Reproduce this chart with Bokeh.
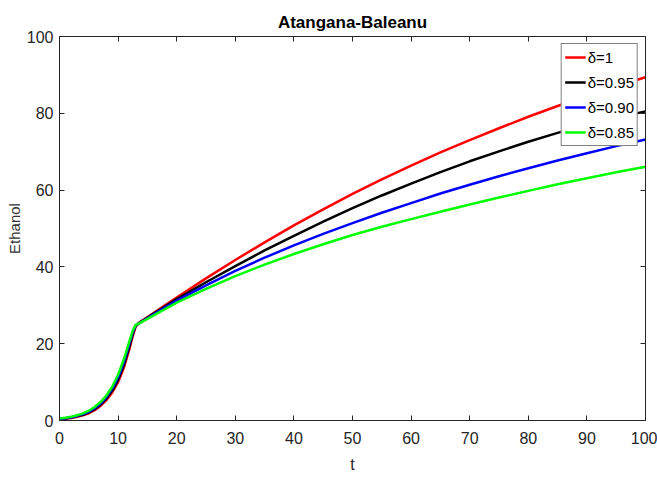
from bokeh.plotting import figure
from bokeh.models import LinearAxis, Range1d, FixedTicker, Legend, LegendItem, CustomJSTickFormatter
from bokeh.embed import file_html
from bokeh.resources import INLINE

t = [0, 1, 2, 3, 4, 5, 6, 7, 8, 9, 10, 11, 12, 12.5, 13, 13.5, 14, 16, 18, 20, 25, 30, 35, 40, 45,
     50, 55, 60, 65, 70, 75, 80, 85, 90, 95, 100]
d100 = [0.3, 0.45, 0.65, 0.95, 1.35, 1.9, 2.7, 3.8, 5.3, 7.3, 10.0, 13.8, 19.0, 22.0, 24.5, 25.3, 25.9,
        27.9, 30.0, 32.0, 37.0, 41.8, 46.4, 50.8, 55.0, 59.0, 62.8, 66.4, 69.8, 73.0, 76.1, 79.1,
        81.9, 84.55, 87.05, 89.4]
d095 = [0.35, 0.52, 0.75, 1.1, 1.5, 2.1, 2.95, 4.1, 5.7, 7.8, 10.6, 14.5, 19.7, 22.5, 24.6, 25.3, 25.8,
        27.8, 29.7, 31.6, 36.0, 40.2, 44.3, 48.1, 51.8, 55.3, 58.6, 61.7, 64.7, 67.5, 70.1, 72.6,
        74.9, 77.0, 78.85, 80.5]
d090 = [0.4, 0.6, 0.85, 1.2, 1.65, 2.3, 3.2, 4.4, 6.1, 8.3, 11.2, 15.2, 20.4, 23.0, 24.8, 25.2, 25.7,
        27.6, 29.4, 31.2, 35.2, 38.95, 42.4, 45.6, 48.6, 51.4, 54.1, 56.6, 59.1, 61.4, 63.6, 65.7,
        67.7, 69.6, 71.45, 73.2]
d085 = [0.5, 0.7, 0.95, 1.35, 1.85, 2.55, 3.5, 4.8, 6.5, 8.8, 11.9, 16.0, 21.0, 23.4, 24.9, 25.2, 25.6,
        27.3, 29.0, 30.7, 34.3, 37.6, 40.6, 43.35, 45.9, 48.3, 50.45, 52.45, 54.35, 56.25, 58.05, 59.8,
        61.5, 63.1, 64.65, 66.1]
labels = ["δ=1", "δ=0.95", "δ=0.90", "δ=0.85"]
colors = ["#ff0000", "#000000", "#0000ff", "#00ff00"]
x_ticks = [0, 10, 20, 30, 40, 50, 60, 70, 80, 90, 100]
y_ticks = [0, 20, 40, 60, 80, 100]

FONT = "Liberation Sans"
AX = "#262626"

p = figure(frame_width=586, frame_height=384, output_backend="svg", toolbar_location=None,
           x_range=Range1d(0, 100), y_range=Range1d(0, 100),
           min_border_left=59, min_border_right=12, min_border_top=36, min_border_bottom=57,
           title="Atangana-Baleanu")
p.title.align = "center"
p.title.text_font = FONT
p.title.text_font_size = "17px"
p.title.text_font_style = "bold"
p.title.text_color = "#000000"
p.grid.visible = False
p.outline_line_color = None
p.background_fill_color = "white"
p.border_fill_color = "white"

xa = p.xaxis[0]
ya = p.yaxis[0]
xa.ticker = FixedTicker(ticks=x_ticks)
ya.ticker = FixedTicker(ticks=y_ticks)
for ax in (xa, ya):
    ax.major_tick_in = 5
    ax.major_tick_out = 0
    ax.minor_tick_line_color = None
    ax.axis_line_color = AX
    ax.major_tick_line_color = AX
    ax.major_label_text_color = AX
    ax.major_label_text_font = FONT
    ax.major_label_text_font_size = "16px"
xa.major_label_standoff = 11
ya.major_label_standoff = 6

xa.axis_label = "t"
xa.axis_label_text_font = FONT
xa.axis_label_text_font_size = "16px"
xa.axis_label_text_font_style = "normal"
xa.axis_label_text_color = AX
xa.axis_label_standoff = 9

ya.axis_label = "Ethanol"
ya.axis_label_text_font = FONT
ya.axis_label_text_font_size = "15px"
ya.axis_label_text_font_style = "normal"
ya.axis_label_text_color = "#333333"
ya.axis_label_standoff = 1

blank = CustomJSTickFormatter(code="return ''")
top = LinearAxis(ticker=FixedTicker(ticks=x_ticks), formatter=blank)
right = LinearAxis(ticker=FixedTicker(ticks=y_ticks), formatter=blank)
for ax in (top, right):
    ax.major_tick_in = 5
    ax.major_tick_out = 0
    ax.minor_tick_line_color = None
    ax.axis_line_color = AX
    ax.major_tick_line_color = AX
    ax.major_label_standoff = 0
    ax.major_label_text_font_size = "1px"
p.add_layout(top, "above")
p.add_layout(right, "right")

items = []
for ys, lab, col in zip([d100, d095, d090, d085], labels, colors):
    r = p.line(t, ys, line_color=col, line_width=2.5, line_join="round")
    items.append(LegendItem(label=lab, renderers=[r]))

legend = Legend(items=items, location="top_right")
legend.margin = 7
legend.padding = 3
legend.spacing = 5
legend.glyph_width = 21
legend.glyph_height = 20
legend.label_height = 20
legend.label_standoff = 2
legend.label_text_font = FONT
legend.label_text_font_size = "15px"
legend.label_text_color = "#000000"
legend.border_line_color = "#000000"
legend.border_line_width = 1
legend.background_fill_alpha = 1
p.add_layout(legend, "center")

open("out.html", "w").write(file_html(p, INLINE))
